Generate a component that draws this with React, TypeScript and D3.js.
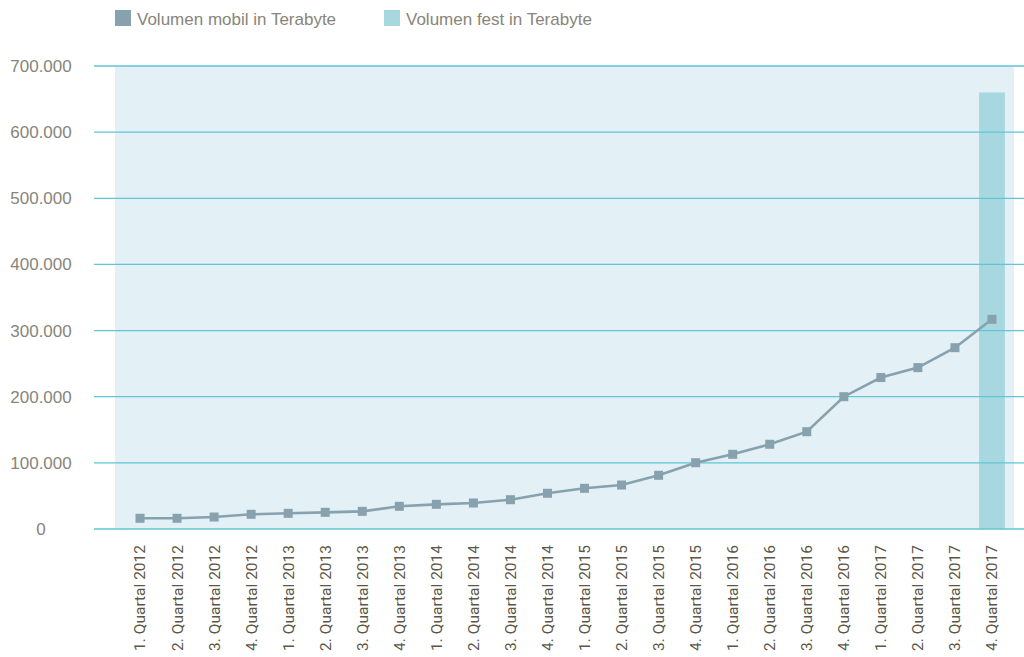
import React from 'react';
import * as d3 from 'd3';

const quarters = [
  '1. Quartal 2012', '2. Quartal 2012', '3. Quartal 2012', '4. Quartal 2012',
  '1. Quartal 2013', '2. Quartal 2013', '3. Quartal 2013', '4. Quartal 2013',
  '1. Quartal 2014', '2. Quartal 2014', '3. Quartal 2014', '4. Quartal 2014',
  '1. Quartal 2015', '2. Quartal 2015', '3. Quartal 2015', '4. Quartal 2015',
  '1. Quartal 2016', '2. Quartal 2016', '3. Quartal 2016', '4. Quartal 2016',
  '1. Quartal 2017', '2. Quartal 2017', '3. Quartal 2017', '4. Quartal 2017',
];

// mobile volume (line)
const mobil = [
  16200, 16200, 18100, 22200, 23700, 25200, 26700, 34300,
  37300, 39300, 44300, 54000, 61500, 66500, 81200, 100200,
  112900, 128100, 147100, 200000, 229000, 244000, 274100, 317000,
];

// fixed volume (bar), only reported for the last quarter
const fest: (number | null)[] = [
  null, null, null, null, null, null, null, null,
  null, null, null, null, null, null, null, null,
  null, null, null, null, null, null, null, 660000,
];

const yTicks = [0, 100000, 200000, 300000, 400000, 500000, 600000, 700000];

const W = 1024;
const H = 657;

const COL_MOBIL = '#88a1ae';
const COL_FEST = '#a8d8df';
const COL_GRID = '#62c4d4';
const COL_BG = '#e3f0f5';
const COL_TEXT = '#88857a';

const fmt = (v: number) => (v === 0 ? '0' : d3.format(',')(v).replace(/,/g, '.'));

export default function App() {
  const x = d3.scaleBand<string>().domain(quarters).range([121.5, 1010.5]);
  const y = d3.scaleLinear().domain([0, 700000]).range([529, 66]);
  const cx = (q: string) => (x(q) ?? 0) + x.bandwidth() / 2;

  const line = d3.line<number>()
    .x((_, i) => cx(quarters[i]))
    .y(d => y(d));

  const barW = x.bandwidth() * 0.7;

  return (
    <svg width={W} height={H} style={{ position: 'absolute', left: 0, top: 0, background: '#fff' }}>
      {/* legend */}
      <g fontFamily="'Liberation Sans', Arial, sans-serif" fontSize={17} fill={COL_TEXT}>
        <rect x={115} y={10} width={16} height={16} fill={COL_MOBIL} />
        <text x={137} y={25}>Volumen mobil in Terabyte</text>
        <rect x={384} y={10} width={16} height={16} fill={COL_FEST} />
        <text x={406} y={25}>Volumen fest in Terabyte</text>
      </g>

      {/* plot background */}
      <rect x={115} y={y(700000)} width={1014 - 115} height={y(0) - y(700000)} fill={COL_BG} />

      {/* bars */}
      {fest.map((v, i) => v == null ? null : (
        <rect key={i} x={cx(quarters[i]) - barW / 2} y={y(v)} width={barW}
          height={y(0) - y(v)} fill={COL_FEST} />
      ))}

      {/* grid + y labels */}
      {yTicks.map(t => (
        <g key={t}>
          <line x1={94} x2={W} y1={y(t)} y2={y(t)} stroke={COL_GRID} strokeWidth={1.3} />
          <text x={41} y={y(t)} dy="0.35em" textAnchor="middle"
            fontFamily="'Liberation Sans', Arial, sans-serif" fontSize={17} fill={COL_TEXT}>
            {fmt(t)}
          </text>
        </g>
      ))}

      {/* line */}
      <path d={line(mobil) ?? ''} fill="none" stroke={COL_MOBIL} strokeWidth={2.6} />
      {mobil.map((v, i) => (
        <rect key={i} x={cx(quarters[i]) - 4.5} y={y(v) - 4.5} width={9} height={9} fill={COL_MOBIL} />
      ))}

      {/* x labels */}
      {quarters.map(q => (
        <text key={q} transform={`translate(${cx(q)},545) rotate(-90)`} dy="0.35em" textAnchor="end"
          fontFamily="Roboto, sans-serif" fontSize={15.5} fill="#5b5646">
          {q}
        </text>
      ))}
    </svg>
  );
}
